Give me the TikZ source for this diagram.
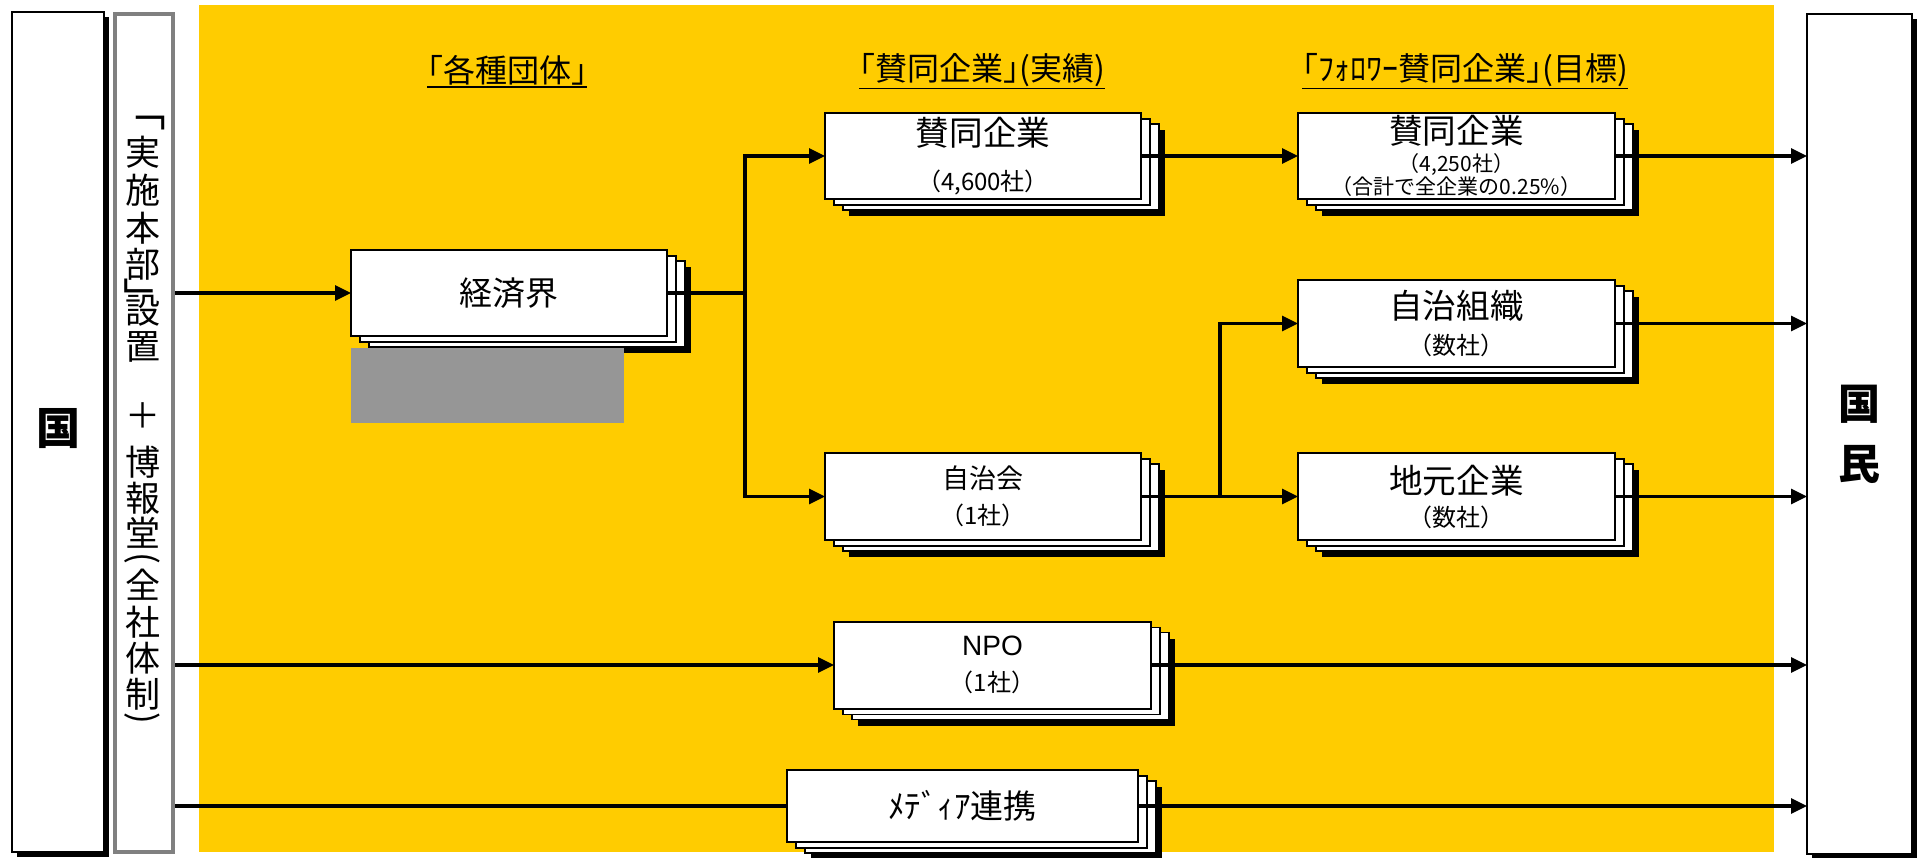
\documentclass[tikz,border=0pt]{standalone}
\usepackage{fontspec}
\setmainfont{Noto Sans CJK JP}
\newfontfamily\latinsans{Liberation Sans}
\usetikzlibrary{arrows.meta,shadows}

\definecolor{bgyellow}{RGB}{255,204,0}
\definecolor{framegray}{RGB}{128,128,128}
\definecolor{blockgray}{RGB}{150,150,150}

\begin{document}
\begin{tikzpicture}[x=0.5pt,y=-0.5pt,
  every node/.style={inner sep=0pt, outer sep=0pt},
  stackbox/.style={draw=black, line width=1pt, fill=white, rectangle, align=center,
    general shadow={shadow xshift=12pt, shadow yshift=-8.5pt, fill=black},
    general shadow={shadow xshift=9pt, shadow yshift=-5.5pt, fill=white, draw=black, line width=0.75pt},
    general shadow={shadow xshift=4.5pt, shadow yshift=-3pt, fill=white, draw=black, line width=0.75pt}},
  endbox/.style={draw=black, line width=0.75pt, fill=white, align=center,
    general shadow={shadow xshift=2.5pt, shadow yshift=-2.5pt, fill=black}},
  vchar/.style={font=\fontsize{17.5}{18}\selectfont},
  vbracket/.style={font=\fontsize{22}{24}\selectfont, rotate=-90},
  vparen/.style={font=\fontsize{17.5}{18}\selectfont, rotate=-90},
  hdr/.style={font=\fontsize{16}{19}\selectfont, inner ysep=1pt,
    append after command={(\tikzlastnode.south west) edge[line width=0.75pt] (\tikzlastnode.south east)}},
  conn/.style={line width=1.6pt},
  arr/.style={line width=1.6pt, -{Triangle[length=8pt,width=7.5pt]}}
]
\useasboundingbox (0,0) rectangle (1917,857);
\fill[white] (0,0) rectangle (1917,857);
\fill[bgyellow] (199,5) rectangle (1774,852);

% outer boxes
\node[endbox, minimum width=46pt, minimum height=420pt, text height=18pt, text depth=5.5pt,
      font=\bfseries\fontsize{22}{24}\selectfont] (kuni) at (58,432) {国};
\node[draw=framegray, line width=2pt, fill=white, outer sep=1pt,
      minimum width=29pt, minimum height=419pt] (jisshi) at (144,433) {};
% vertical text: 「実施本部」設置 ＋ 博報堂（全社体制）
\node[vbracket] (jb1) at (146,120) {｢};
\foreach \c/\y [count=\i] in {実/152, 施/190, 本/228, 部/264, 設/311, 置/347,
    ＋/416, 博/462, 報/498, 堂/533, 全/585, 社/622, 体/658, 制/694}
  \node[vchar] (jt\i) at (143,\y) {\c};
\node[vbracket] (jb2) at (139,288) {｣};
\node[vparen] (jb3) at (142,558) {(};
\node[vparen] (jb4) at (142,718) {)};
\node[endbox, minimum width=52.5pt, minimum height=420pt,
      font=\bfseries\fontsize{21}{30}\selectfont] (kokumin) at (1859.5,434) {国\\民};

% headers
\node[hdr] (h1) at (507,70) {｢各種団体｣};
\node[hdr] (h2) at (982,70) {｢賛同企業｣(実績)};
\node[hdr] (h3) at (1465,70) {｢ﾌｫﾛﾜｰ賛同企業｣(目標)};

% stacked boxes
\node[stackbox, minimum width=158pt, minimum height=43pt,
      font=\fontsize{16.5}{20}\selectfont] (keizai) at (509,293) {経済界};
\node[fill=blockgray, minimum width=136.5pt, minimum height=37.5pt] (grayblk) at (487.5,385.5) {};

\node[stackbox, minimum width=158pt, minimum height=43pt,
      font=\fontsize{12}{22.4}\selectfont] (sando1) at (983,156)
      {{\fontsize{16.8}{20}\selectfont 賛同企業}\\（4,600社）};
\node[stackbox, minimum width=158.5pt, minimum height=43pt,
      font=\fontsize{10.5}{14.1}\selectfont] (sando2) at (1456.5,156)
      {{\fontsize{16.8}{20}\selectfont 賛同企業}\\（4,250社）\\[-2.6pt]（合計で全企業の0.25\%）};
\node[stackbox, minimum width=158pt, minimum height=43.5pt,
      font=\fontsize{12}{17.9}\selectfont] (jichikai) at (983,496.5)
      {{\fontsize{13.5}{16}\selectfont 自治会}\\（1社）};
\node[stackbox, minimum width=158.5pt, minimum height=43.5pt,
      font=\fontsize{12}{17.7}\selectfont] (jichisoshiki) at (1456.5,323.5)
      {{\fontsize{16.8}{20}\selectfont 自治組織}\\（数社）};
\node[stackbox, minimum width=158.5pt, minimum height=43.5pt,
      font=\fontsize{12}{16.5}\selectfont] (chimoto) at (1456.5,496.5)
      {{\fontsize{16.8}{20}\selectfont 地元企業}\\（数社）};
\node[stackbox, minimum width=158.5pt, minimum height=43.5pt,
      font=\fontsize{12}{18.3}\selectfont] (npo) at (992.5,665)
      {{\latinsans\fontsize{14}{16}\selectfont NPO}\\（1社）};
\node[stackbox, minimum width=175.5pt, minimum height=36pt,
      font=\fontsize{16.5}{20}\selectfont] (media) at (962.5,806) {ﾒﾃﾞｨｱ連携};

% branch points
\coordinate (br1) at (745,293);
\coordinate (br2) at (1220,496.5);

% connectors
\draw[arr] (jisshi.east |- keizai.west) -- (keizai.west);
\draw[arr] (keizai.east) -| (br1 |- sando1.west) -- (sando1.west);
\draw[arr] (keizai.east) -| (br1 |- jichikai.west) -- (jichikai.west);
\draw[arr] (sando1.east) -- (sando2.west);
\draw[arr] (jichikai.east) -- (chimoto.west);
\draw[arr] (jichikai.east) -| (br2 |- jichisoshiki.west) -- (jichisoshiki.west);
\draw[arr] (sando2.east) -- (sando2.east -| kokumin.west);
\draw[arr] (jichisoshiki.east) -- (jichisoshiki.east -| kokumin.west);
\draw[arr] (chimoto.east) -- (chimoto.east -| kokumin.west);
\draw[arr] (jisshi.east |- npo.west) -- (npo.west);
\draw[arr] (npo.east) -- (npo.east -| kokumin.west);
\draw[conn] (jisshi.east |- media.west) -- (media.west);
\draw[arr] (media.east) -- (media.east -| kokumin.west);
\end{tikzpicture}
\end{document}
